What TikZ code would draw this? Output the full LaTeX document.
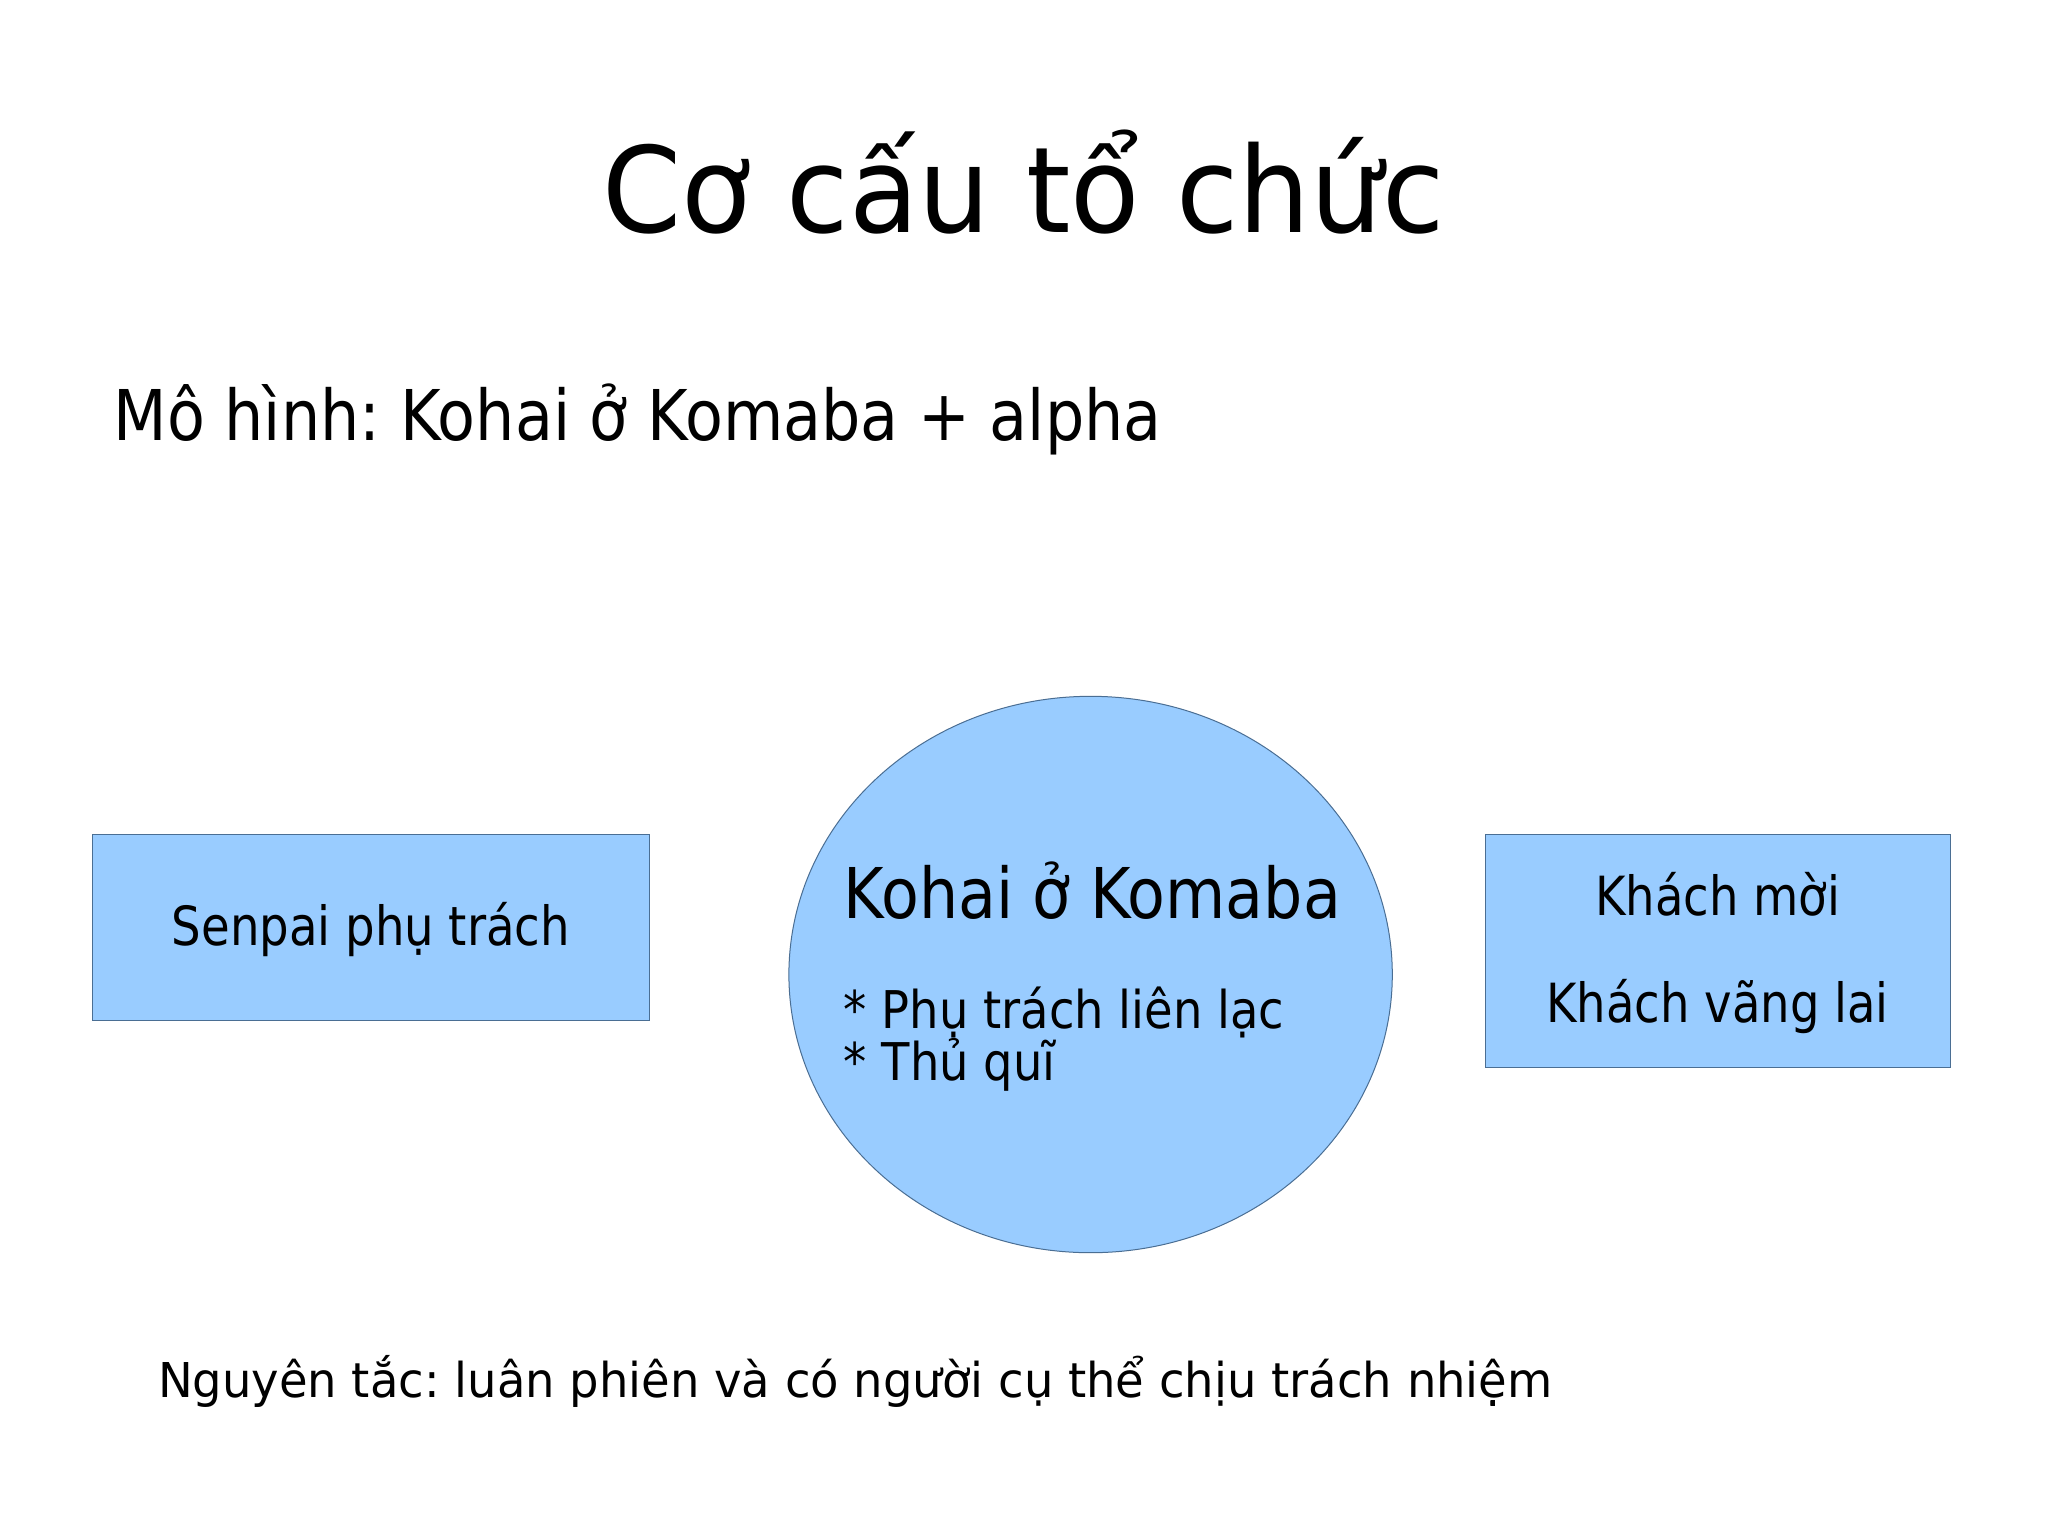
\documentclass[tikz,border=0pt]{standalone}
\usepackage{fontspec}
\usepackage{graphicx}
\setmainfont{DejaVu Sans}
\usetikzlibrary{shapes.geometric}
\definecolor{boxfill}{HTML}{99CCFF}
\definecolor{boxline}{HTML}{4A6E93}
\newcommand{\fs}[1]{\fontsize{#1}{#1}\selectfont\frenchspacing}
\newcommand{\sq}[2]{\scalebox{#1}[1]{#2}}
\tikzset{
  shapebox/.style={draw=boxline, fill=boxfill, line width=1pt, inner sep=0pt},
  txt/.style={inner sep=0pt, outer sep=0pt, text=black},
}
\begin{document}
\begin{tikzpicture}[x=1pt,y=-1pt]
\useasboundingbox (0,0) rectangle (2048,1535);
\fill[white] (0,0) rectangle (2048,1535);

\node[txt, anchor=base, font=\fs{119}] (title) at (1023.5,232.5) {\sq{0.952}{Cơ cấu tổ chức}};
\node[txt, anchor=base west, font=\fs{70}] (model) at (113.6,440) {\sq{0.885}{Mô hình: Kohai ở Komaba + alpha}};

\node[shapebox, rectangle, minimum width=556.3pt, minimum height=185.4pt] (senpai) at (370.9,927.3) {};
\node[txt, anchor=base, font=\fs{54}] (senpaitxt) at (370.9,945.6) {\sq{0.863}{Senpai phụ trách}};

\node[shapebox, ellipse, minimum width=603.4pt, minimum height=556.4pt] (kohai) at (1090.6,974.5) {};
\node[txt, anchor=base west, font=\fs{70}] (kohaitxt) at (843.7,918) {\sq{0.883}{Kohai ở Komaba}};
\node[txt, anchor=base west, font=\fs{52}] (role1) at (843.7,1028) {\sq{0.893}{* Phụ trách liên lạc}};
\node[txt, anchor=base west, font=\fs{52}] (role2) at (843.7,1080) {\sq{0.893}{* Thủ quĩ}};

\node[shapebox, rectangle, minimum width=465pt, minimum height=232.4pt] (guest) at (1717.5,950.8) {};
\node[txt, anchor=base, font=\fs{54}] (guest1) at (1717.5,915.6) {\sq{0.861}{Khách mời}};
\node[txt, anchor=base, font=\fs{54}] (guest2) at (1717.5,1022.7) {\sq{0.861}{Khách vãng lai}};

\node[txt, anchor=base west, font=\fs{48}] (rule) at (158,1397.5) {\sq{0.968}{Nguyên tắc: luân phiên và có người cụ thể chịu trách nhiệm}};
\end{tikzpicture}
\end{document}
